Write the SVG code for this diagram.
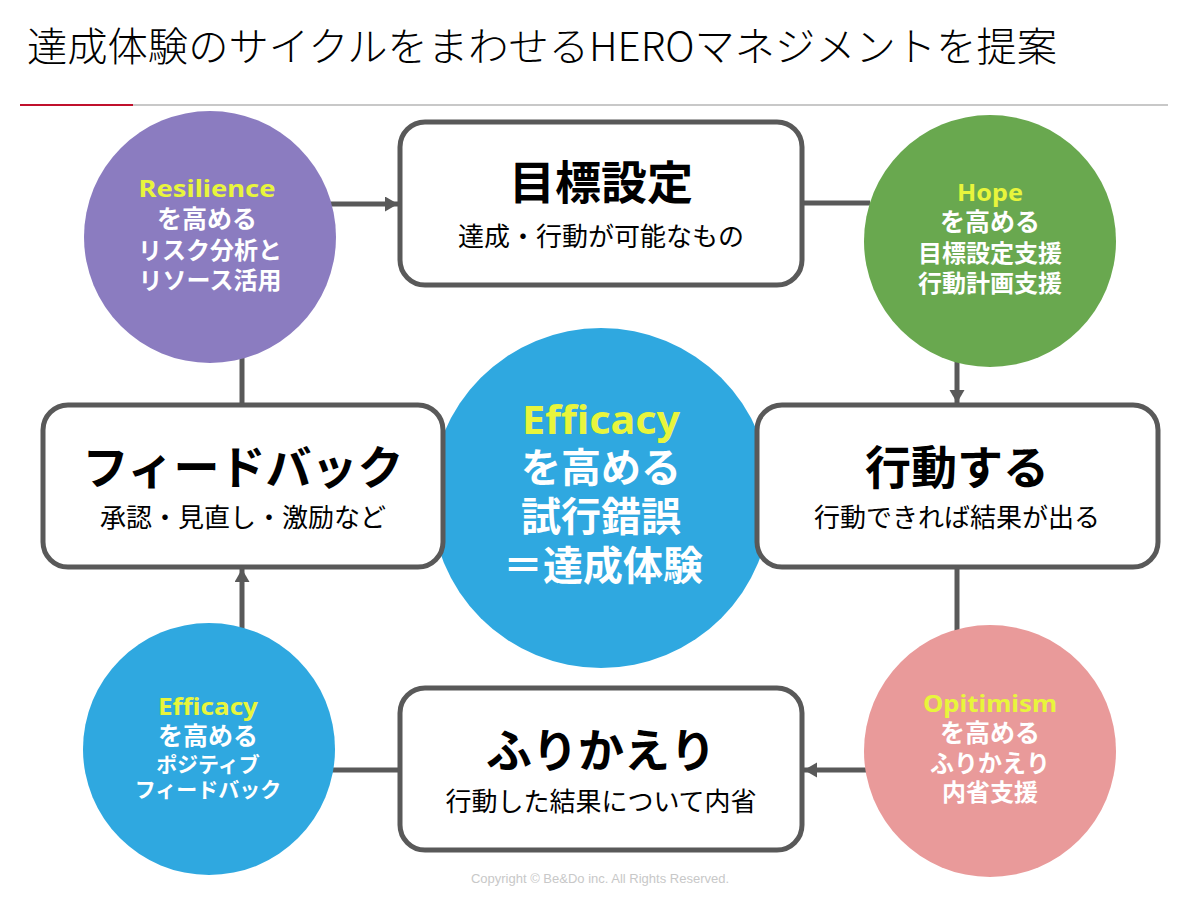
<svg xmlns="http://www.w3.org/2000/svg" width="1200" height="900" viewBox="0 0 1200 900">
  <defs>
    <marker id="arrow" markerUnits="userSpaceOnUse" markerWidth="14" markerHeight="16" refX="13" refY="7.5" orient="auto">
      <path d="M0,0 L13,7.5 L0,15 z" fill="#595959"/>
    </marker>
  </defs>
  <style>
    .title { font-family: "Noto Sans CJK JP", "Noto Sans", sans-serif; font-size: 40px; font-weight: 300; fill: #000; }
    .box { fill: #ffffff; stroke: #595959; stroke-width: 5; }
    .btitle { font-family: "Noto Sans CJK JP", sans-serif; font-size: 46px; font-weight: 700; fill: #000; text-anchor: middle; }
    .bsub { font-family: "Noto Sans CJK JP", sans-serif; font-size: 26px; font-weight: 400; fill: #000; text-anchor: middle; }
    .ctext { font-family: "Noto Sans", "Noto Sans CJK JP", sans-serif; font-weight: 700; fill: #ffffff; text-anchor: middle; font-size: 24px; }
    .c40 { font-size: 40px; }
    .c25 { font-size: 25px; }
    .c21 { font-size: 21px; }
    .hl { fill: #e8f53c; }
    .conn { stroke: #595959; stroke-width: 5; fill: none; }
    .foot { font-family: "Liberation Sans", Arial, sans-serif; font-size: 13px; fill: #c8c8c8; text-anchor: middle; }
  </style>
  <rect width="1200" height="900" fill="#ffffff"/>

  <g id="header">
    <text class="title" x="27" y="61" textLength="1030" lengthAdjust="spacingAndGlyphs">達成体験のサイクルをまわせるHEROマネジメントを提案</text>
    <line x1="20" y1="105" x2="1168" y2="105" stroke="#c8c8c8" stroke-width="2"/>
    <line x1="20" y1="105" x2="133" y2="105" stroke="#c0102c" stroke-width="2"/>
  </g>

  <g id="center">
    <circle cx="601" cy="498" r="170" fill="#2fa8e0"/>
    <text class="ctext c40 hl" x="601" y="434" textLength="158" lengthAdjust="spacingAndGlyphs">Efficacy</text>
    <text class="ctext c40" x="601" y="482">を高める</text>
    <text class="ctext c40" x="601" y="531">試行錯誤</text>
    <text class="ctext c40" x="603" y="580">＝達成体験</text>
  </g>

  <g id="connectors">
    <line class="conn" x1="330" y1="204" x2="398" y2="204" marker-end="url(#arrow)"/>
    <line class="conn" x1="802" y1="203" x2="870" y2="203"/>
    <line class="conn" x1="957" y1="355" x2="957" y2="403" marker-end="url(#arrow)"/>
    <line class="conn" x1="957" y1="567" x2="957" y2="640"/>
    <line class="conn" x1="870" y1="770" x2="804" y2="770" marker-end="url(#arrow)"/>
    <line class="conn" x1="400" y1="770" x2="330" y2="770"/>
    <line class="conn" x1="242" y1="636" x2="242" y2="569" marker-end="url(#arrow)"/>
    <line class="conn" x1="242" y1="405" x2="242" y2="352"/>
  </g>

  <g id="resilience">
    <circle cx="210" cy="237" r="126" fill="#8b7cc0"/>
    <text class="ctext hl" x="207" y="197" textLength="137" lengthAdjust="spacingAndGlyphs">Resilience</text>
    <text class="ctext c25" x="207" y="228">を高める</text>
    <text class="ctext" x="210" y="259">リスク分析と</text>
    <text class="ctext" x="210" y="289">リソース活用</text>
  </g>

  <g id="goal">
    <rect class="box" x="400" y="122" width="402" height="163" rx="25"/>
    <text class="btitle" x="601" y="199">目標設定</text>
    <text class="bsub" x="601" y="246">達成・行動が可能なもの</text>
  </g>

  <g id="hope">
    <circle cx="990" cy="241" r="126" fill="#69a84f"/>
    <text class="ctext hl" x="990" y="201" textLength="66" lengthAdjust="spacingAndGlyphs">Hope</text>
    <text class="ctext c25" x="990" y="231">を高める</text>
    <text class="ctext" x="990" y="262">目標設定支援</text>
    <text class="ctext" x="990" y="292">行動計画支援</text>
  </g>

  <g id="action">
    <rect class="box" x="757" y="405" width="401" height="162" rx="25"/>
    <text class="btitle" x="957" y="484">行動する</text>
    <text class="bsub" x="957" y="527">行動できれば結果が出る</text>
  </g>

  <g id="feedback">
    <rect class="box" x="43" y="405" width="400" height="162" rx="25"/>
    <text class="btitle" x="243" y="484">フィードバック</text>
    <text class="bsub" x="243" y="527">承認・見直し・激励など</text>
  </g>

  <g id="optimism">
    <circle cx="990" cy="751" r="126" fill="#e99a9a"/>
    <text class="ctext hl" x="990" y="712" textLength="134" lengthAdjust="spacingAndGlyphs">Opitimism</text>
    <text class="ctext c25" x="990" y="742">を高める</text>
    <text class="ctext" x="990" y="772">ふりかえり</text>
    <text class="ctext" x="990" y="801">内省支援</text>
  </g>

  <g id="reflection">
    <rect class="box" x="400" y="688" width="402" height="162" rx="25"/>
    <text class="btitle" x="601" y="767">ふりかえり</text>
    <text class="bsub" x="601" y="811">行動した結果について内省</text>
  </g>

  <g id="efficacy-small">
    <circle cx="209" cy="749" r="126" fill="#2fa8e0"/>
    <text class="ctext hl" x="208" y="715" textLength="100" lengthAdjust="spacingAndGlyphs">Efficacy</text>
    <text class="ctext c25" x="208" y="745">を高める</text>
    <text class="ctext c21" x="208" y="772">ポジティブ</text>
    <text class="ctext c21" x="208" y="797">フィードバック</text>
  </g>

  <g id="footer">
    <text class="foot" x="600" y="883">Copyright © Be&amp;Do inc. All Rights Reserved.</text>
  </g>
</svg>
